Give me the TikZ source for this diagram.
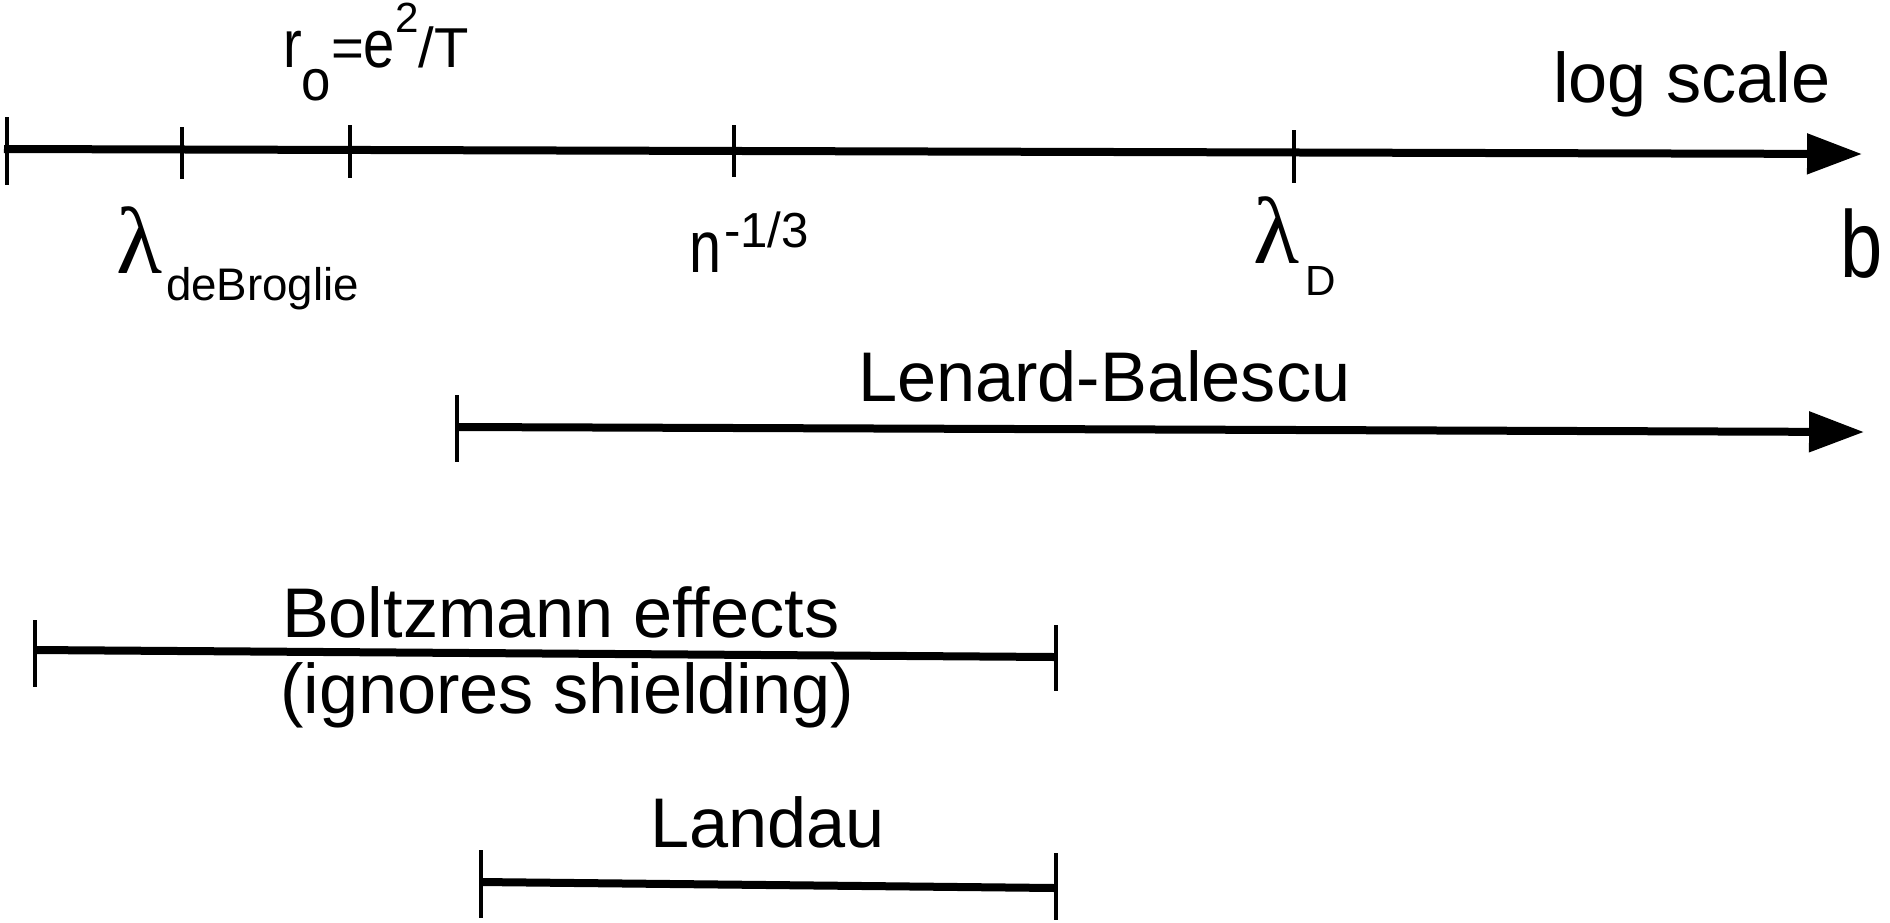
\documentclass[tikz,border=0pt]{standalone}
\usepackage{fontspec}
\setmainfont{Liberation Sans}
\newfontfamily\greekserif{Liberation Serif}
\usetikzlibrary{arrows.meta}
\begin{document}
\begin{tikzpicture}[x=0.1mm,y=-0.1mm,
  thickline/.style={line width=0.8mm},
  arrowline/.style={line width=0.8mm,-{Triangle[length=5.5mm,width=3.9mm]}},
  tickmark/.style={line width=0.48mm},
  thintick/.style={line width=0.34mm},
  lbl/.style={anchor=base west,inner sep=0pt,outer sep=0pt},
  bigtext/.style={font=\fontsize{20}{24}\selectfont}]
\useasboundingbox (0,0) rectangle (1890,922);

% ---------------- main axis ----------------
\coordinate (axstart) at (4,149);
\coordinate (axend) at (1862,154);
\draw[arrowline] (axstart) -- (axend);
\draw[tickmark] (7,117) -- (7,185);
\draw[tickmark] (182,127) -- (182,179);
\draw[tickmark] (350,125) -- (350,178);
\draw[tickmark] (734,125) -- (734,177);
\draw[tickmark] (1294,130) -- (1294,183);

% labels of the axis
\node[lbl] (ro) at (283,67) {\fontsize{16}{19}\selectfont \scalebox{1}[1.2]{r}\raisebox{-9.4pt}{\fontsize{15}{17}\selectfont \scalebox{1}[1.1]{o}}=\scalebox{1}[1.2]{e}\raisebox{9.7pt}{\fontsize{12}{14}\selectfont 2}/T};
\node[lbl] (lamdb) at (116,273) {\greekserif\fontsize{27}{30}\selectfont λ};
\node[lbl] (lamdbsub) at (166,300) {\fontsize{13}{15}\selectfont deBroglie};
\node[lbl] (nlab) at (689,272) {\scalebox{0.78}[1]{\fontsize{21}{25}\selectfont n}};
\node[lbl] (nexp) at (724,247) {\fontsize{14}{16}\selectfont -1/3};
\node[lbl] (lamd) at (1253,263) {\greekserif\fontsize{27}{30}\selectfont λ};
\node[lbl] (lamdsub) at (1305,295) {\fontsize{12}{14}\selectfont D};
\node[lbl] (blab) at (1840,277) {\scalebox{0.8}[1]{\fontsize{27}{30}\selectfont b}};
\node[lbl,bigtext] (logscale) at (1553,102) {log scale};

% ---------------- Lenard-Balescu ----------------
\coordinate (lbstart) at (457,427);
\coordinate (lbend) at (1864,432);
\draw[arrowline] (lbstart) -- (lbend);
\draw[thintick] (457,395) -- (457,462);
\node[lbl,bigtext] (lblab) at (858,401) {Lenard-Balescu};

% ---------------- Boltzmann ----------------
\coordinate (bzstart) at (35,650);
\coordinate (bzend) at (1056,657);
\draw[thickline] (bzstart) -- (bzend);
\draw[thintick] (35,620) -- (35,687);
\draw[thintick] (1056,625) -- (1056,691);
\node[lbl,bigtext] (bzlab) at (282,637) {Boltzmann effects};
\node[lbl,bigtext] (bzlab2) at (280,713) {(ignores shielding)};

% ---------------- Landau ----------------
\coordinate (ldstart) at (481,882);
\coordinate (ldend) at (1056,888);
\draw[thickline] (ldstart) -- (ldend);
\draw[thintick] (481,850) -- (481,918);
\draw[thintick] (1056,853) -- (1056,920);
\node[lbl,bigtext] (ldlab) at (650,847) {Landau};
\end{tikzpicture}
\end{document}
